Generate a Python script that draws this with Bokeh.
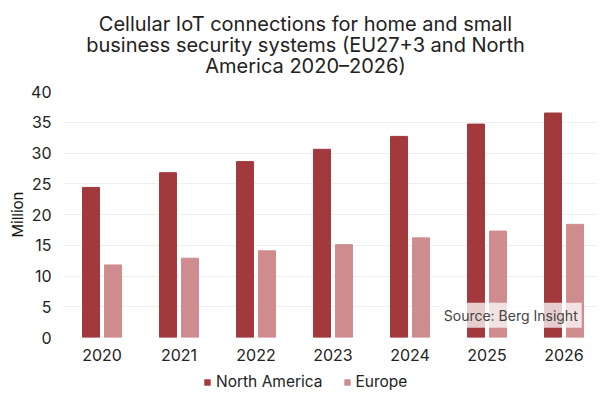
from bokeh.plotting import figure
from bokeh.layouts import column
from bokeh.models import (Range1d, FixedTicker, Legend, LegendItem, Label,
                          ColumnDataSource)
from bokeh.core.properties import value
from bokeh.transform import dodge
from bokeh.embed import file_html
from bokeh.resources import INLINE

years = ["2020", "2021", "2022", "2023", "2024", "2025", "2026"]
north_america = [24.4, 26.8, 28.6, 30.6, 32.7, 34.7, 36.5]
europe = [11.8, 12.9, 14.1, 15.1, 16.2, 17.3, 18.4]
y_ticks = [0, 5, 10, 15, 20, 25, 30, 35, 40]
series_names = ["North America", "Europe"]
title_lines = ["Cellular IoT connections for home and small",
               "business security systems (EU27+3 and North",
               "America 2020\u20132026)"]

FONT = "Inter"
NA_COLOR = "#a2393d"
EU_COLOR = "#cf8c8e"

FRAME_L, FRAME_R = 63, 597   # column aligns every frame to the chart's frame


def strip(height):
    f = figure(width=600, height=height, output_backend="svg",
               toolbar_location=None, x_range=Range1d(FRAME_L, FRAME_R),
               y_range=Range1d(height, 0), x_axis_type=None,
               y_axis_type=None, min_border_left=0, min_border_right=0,
               min_border_top=0, min_border_bottom=0)
    f.outline_line_color = None
    return f


# ---- title strip (page pixel coordinates, y downwards) ----
tf = strip(83)
tf.text(x=[305, 305, 305], y=[23, 44.3, 65.6], text=title_lines,
        text_align="center", text_baseline="alphabetic",
        text_font=value(FONT), text_font_size="20px", text_color="#222222")

# ---- main chart ----
idx = list(range(len(years)))
src = ColumnDataSource(dict(x=idx, na=north_america, eu=europe))

p = figure(width=600, height=287, output_backend="svg", toolbar_location=None,
           x_range=Range1d(-0.5, 6.435), y_range=Range1d(0, 40),
           min_border_left=FRAME_L, min_border_right=600 - FRAME_R,
           min_border_top=8, min_border_bottom=33)
p.outline_line_color = None

r_na = p.vbar(x=dodge("x", -0.143, range=p.x_range), top="na", width=0.22,
              source=src, color=NA_COLOR)
r_eu = p.vbar(x=dodge("x", 0.143, range=p.x_range), top="eu", width=0.22,
              source=src, color=EU_COLOR)

p.xaxis.ticker = FixedTicker(ticks=idx)
p.xaxis.major_label_overrides = {i: y for i, y in zip(idx, years)}
p.xaxis.major_label_text_font = FONT
p.xaxis.major_label_text_font_size = "16px"
p.xaxis.major_label_text_color = "#222222"
p.xaxis.major_label_standoff = 11
p.xaxis.major_tick_out = 0
p.xaxis.major_tick_in = 0
p.xaxis.axis_line_color = None
p.xaxis.major_tick_line_color = None
p.xaxis.minor_tick_line_color = None

p.yaxis.ticker = FixedTicker(ticks=y_ticks)
p.yaxis.major_label_text_font = FONT
p.yaxis.major_label_text_font_size = "16px"
p.yaxis.major_label_text_color = "#222222"
p.yaxis.major_label_standoff = 12
p.yaxis.major_tick_out = 0
p.yaxis.major_tick_in = 0
p.yaxis.axis_line_color = None
p.yaxis.major_tick_line_color = None
p.yaxis.minor_tick_line_color = None
p.yaxis.axis_label = "Million"
p.yaxis.axis_label_text_font = FONT
p.yaxis.axis_label_text_font_size = "15px"
p.yaxis.axis_label_text_font_style = "normal"
p.yaxis.axis_label_text_color = "#111111"
p.yaxis.axis_label_standoff = 1

p.xgrid.grid_line_color = None
p.ygrid.grid_line_color = "#efefef"
p.ygrid.grid_line_width = 1

p.add_layout(Label(x=6.23, y=3.6, text="Source: Berg Insight",
                   text_align="right", text_baseline="middle",
                   text_font=FONT, text_font_size="14px", text_color="#444444",
                   background_fill_color="white", background_fill_alpha=0.75,
                   padding=4))

# ---- legend strip ----
lf = strip(23)
# zero-area swatch renderers (outside the strip's frame) feeding the legend
sw_na = lf.vbar(x=[0], top=[0], width=0, fill_color=NA_COLOR, line_color=None)
sw_eu = lf.vbar(x=[0], top=[0], width=0, fill_color=EU_COLOR, line_color=None)
legend = Legend(items=[LegendItem(label=series_names[0], renderers=[sw_na]),
                       LegendItem(label=series_names[1], renderers=[sw_eu])],
                orientation="horizontal", location=(203 - FRAME_L, 2),
                glyph_width=8, glyph_height=8, label_standoff=5, spacing=20,
                padding=0, margin=0, border_line_color=None,
                background_fill_alpha=0,
                label_text_font=FONT, label_text_font_size="15.5px",
                label_text_color="#222222")
lf.add_layout(legend)

layout = column(tf, p, lf, spacing=0)
open("out.html", "w").write(file_html(layout, INLINE))
